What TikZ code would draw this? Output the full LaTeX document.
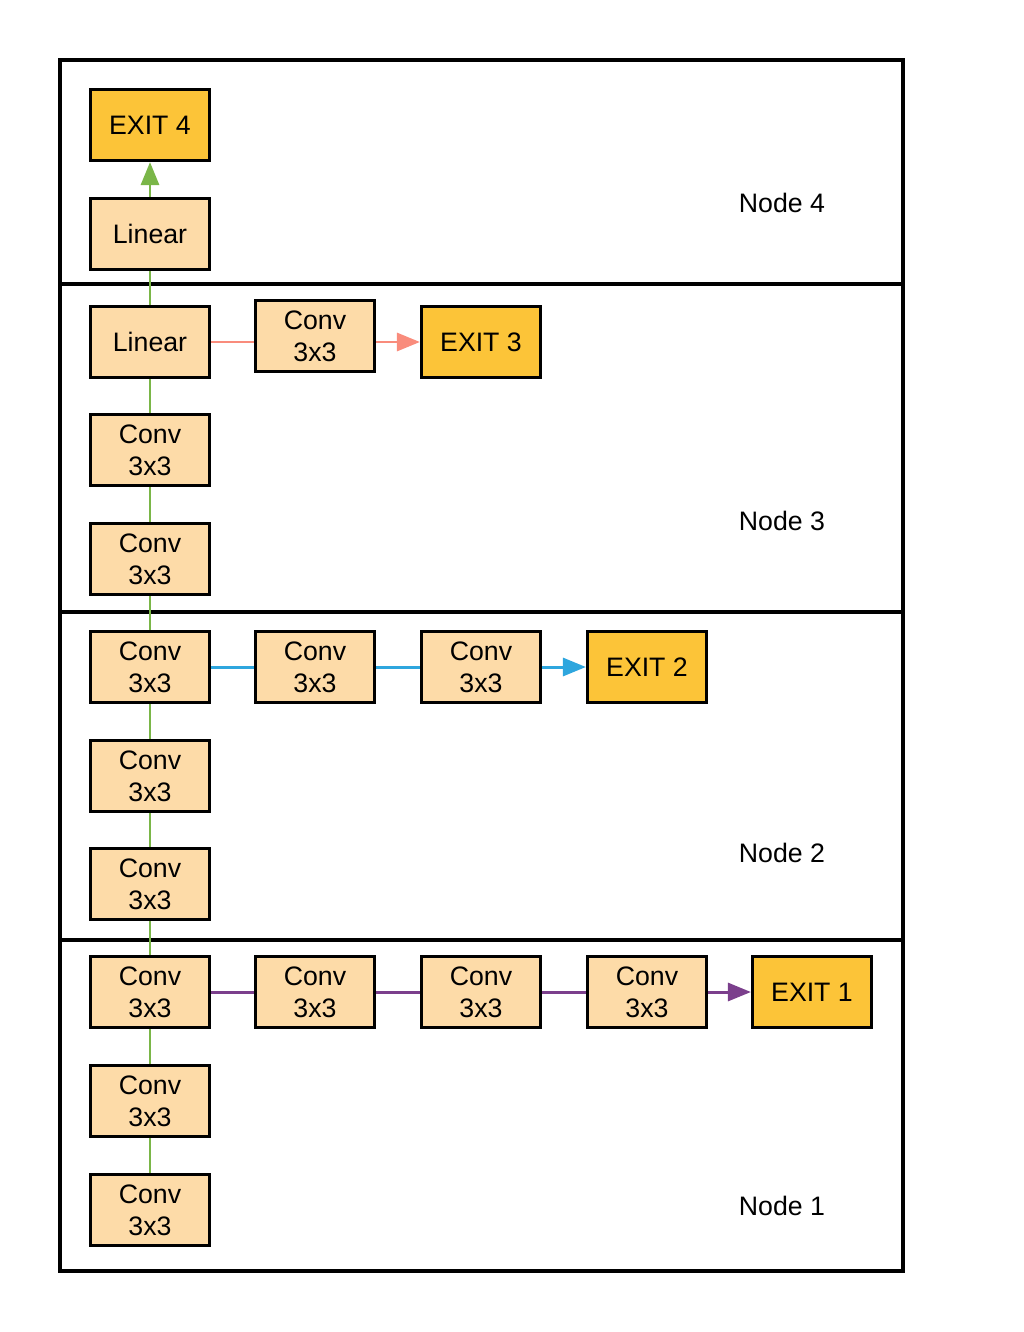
\documentclass[tikz,border=0pt]{standalone}
\usepackage{fontspec}
\setmainfont{Liberation Sans}
\usepackage{xcolor}
\usepackage{tikz}
\usetikzlibrary{positioning, arrows.meta}

\definecolor{layerfill}{HTML}{FDDBA8}
\definecolor{exitfill}{HTML}{FCC438}
\definecolor{maingreen}{HTML}{7AB648}
\definecolor{salmon}{HTML}{F98C7C}
\definecolor{skyblue}{HTML}{2EA6DE}
\definecolor{plum}{HTML}{7B3F8C}

\begin{document}
\begin{tikzpicture}[
    x=0.02cm, y=-0.02cm,
    layer/.style={rectangle, draw, line width=1.8pt, fill=layerfill, minimum height=1.42cm, minimum width=2.38cm, align=center, font=\fontsize{15.2}{18.2}\selectfont, inner sep=0pt},
    exitbox/.style={layer, fill=exitfill},
    nodelabel/.style={font=\fontsize{15.2}{18.2}\selectfont},
    link/.style={line width=1.7pt, #1},
    arr/.style={-{Triangle[length=0.46cm, width=0.36cm]}, line width=1.7pt, #1},
]
\useasboundingbox (0,0) rectangle (1024,1332);

% frame and separators
\draw[line width=1.8pt] (60,60) rectangle (903,1271);
\draw[line width=1.8pt] (60,284) -- (903,284);
\draw[line width=1.8pt] (60,612) -- (903,612);
\draw[line width=1.8pt] (60,940) -- (903,940);

% Node 4
\node[exitbox] (exit4) at (150,125) {EXIT 4};
\node[layer] (lin4) at (150,234) {Linear};
\node[nodelabel] (n4) at (782,203) {Node 4};

% Node 3
\node[layer] (lin3) at (150,342) {Linear};
\node[layer] (c3b) at (315,336) {Conv\\3x3};
\node[exitbox] (exit3) at (481,342) {EXIT 3};
\node[layer] (c3a) at (150,450) {Conv\\3x3};
\node[layer] (c3c) at (150,559) {Conv\\3x3};
\node[nodelabel] (n3) at (782,521) {Node 3};

% Node 2
\node[layer] (c2a) at (150,667) {Conv\\3x3};
\node[layer] (c2b) at (315,667) {Conv\\3x3};
\node[layer] (c2c) at (481,667) {Conv\\3x3};
\node[exitbox] (exit2) at (647,667) {EXIT 2};
\node[layer] (c2d) at (150,776) {Conv\\3x3};
\node[layer] (c2e) at (150,884) {Conv\\3x3};
\node[nodelabel] (n2) at (782,853) {Node 2};

% Node 1
\node[layer] (c1a) at (150,992) {Conv\\3x3};
\node[layer] (c1b) at (315,992) {Conv\\3x3};
\node[layer] (c1c) at (481,992) {Conv\\3x3};
\node[layer] (c1d) at (647,992) {Conv\\3x3};
\node[exitbox] (exit1) at (812,992) {EXIT 1};
\node[layer] (c1e) at (150,1101) {Conv\\3x3};
\node[layer] (c1f) at (150,1210) {Conv\\3x3};
\node[nodelabel] (n1) at (782,1206) {Node 1};

% main path
\draw[link=maingreen] (c1f.north) -- (c1e.south);
\draw[link=maingreen] (c1e.north) -- (c1a.south);
\draw[link=maingreen] (c1a.north) -- (c2e.south);
\draw[link=maingreen] (c2e.north) -- (c2d.south);
\draw[link=maingreen] (c2d.north) -- (c2a.south);
\draw[link=maingreen] (c2a.north) -- (c3c.south);
\draw[link=maingreen] (c3c.north) -- (c3a.south);
\draw[link=maingreen] (c3a.north) -- (lin3.south);
\draw[link=maingreen] (lin3.north) -- (lin4.south);
\draw[arr=maingreen] (lin4.north) -- (exit4.south);

% exit branches
\draw[link=plum] (c1a.east) -- (c1b.west);
\draw[link=plum] (c1b.east) -- (c1c.west);
\draw[link=plum] (c1c.east) -- (c1d.west);
\draw[arr=plum] (c1d.east) -- (exit1.west);

\draw[link=skyblue] (c2a.east) -- (c2b.west);
\draw[link=skyblue] (c2b.east) -- (c2c.west);
\draw[arr=skyblue] (c2c.east) -- (exit2.west);

\draw[link=salmon] (lin3.east) -- (lin3.east -| c3b.west);
\draw[arr=salmon] (lin3.east -| c3b.east) -- (exit3.west);

\end{tikzpicture}
\end{document}
